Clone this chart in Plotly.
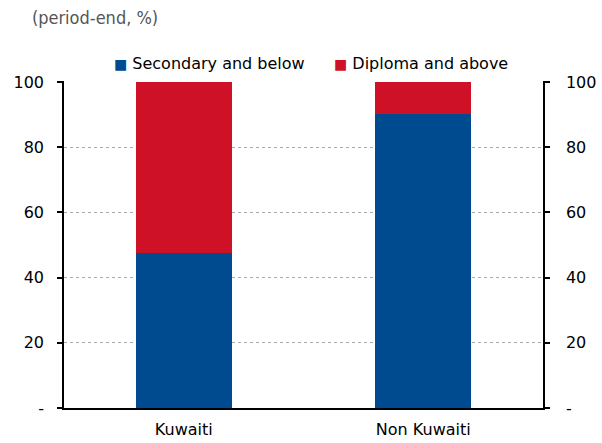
import plotly.graph_objects as go

categories = ["Kuwaiti", "Non Kuwaiti"]
secondary = [47.4, 90.3]
diploma = [52.6, 9.7]
series_names = ["Secondary and below", "Diploma and above"]
tick_vals = [0, 20, 40, 60, 80, 100]
tick_text = ["-", "20", "40", "60", "80", "100"]

BLUE = "#004A8F"
RED = "#CF1128"
FONT = "DejaVu Sans"

fig = go.Figure()
fig.add_trace(go.Bar(x=categories, y=secondary, name=series_names[0],
                     marker=dict(color=BLUE, line=dict(width=0)), width=0.4, showlegend=False))
fig.add_trace(go.Bar(x=categories, y=diploma, name=series_names[1],
                     marker=dict(color=RED, line=dict(width=0)), width=0.4, showlegend=False))
# invisible trace to anchor the right axis
fig.add_trace(go.Scatter(x=categories, y=[None, None], yaxis="y2", showlegend=False,
                         hoverinfo="skip"))

axis_common = dict(range=[0, 100.3], tickvals=tick_vals, ticktext=tick_text,
                   ticks="outside", ticklen=5, tickwidth=1.5, tickcolor="black",
                   showline=True, linecolor="black", linewidth=1.5, automargin=False,
                   tickfont=dict(family=FONT, size=16, color="black"), zeroline=False)

fig.update_layout(
    width=602, height=443,
    margin=dict(l=64, r=59, t=81, b=35),
    barmode="stack",
    plot_bgcolor="white", paper_bgcolor="white",
    font=dict(family=FONT, color="black"),
    title=dict(text="(period-end, %)", x=0.053, xanchor="left", y=0.975, yanchor="top",
               font=dict(family="DejaVu Sans Condensed", size=18, color="#555555")),
    showlegend=False,
    xaxis=dict(showline=True, linecolor="black", linewidth=1.5, ticks="", automargin=False,
               tickfont=dict(family=FONT, size=16, color="black"), range=[-0.5, 1.5],
               ticklabelstandoff=6),
    yaxis=dict(**axis_common, showgrid=True, gridcolor="#AAAAAA", griddash="dot", gridwidth=1,
               ticklabelstandoff=10),
    yaxis2=dict(**axis_common, overlaying="y", side="right", showgrid=False,
                ticklabelstandoff=13),
)

legend_x = [0.1002, 0.5595]
for name, color, lx in zip(series_names, [BLUE, RED], legend_x):
    fig.add_annotation(
        xref="paper", yref="paper", x=lx, y=1.055, xanchor="left", yanchor="middle",
        showarrow=False,
        text=f"<span style='color:{color};font-size:14px'>■</span> {name}",
        font=dict(family=FONT, size=16, color="black"),
    )

fig.write_html("out.html")
